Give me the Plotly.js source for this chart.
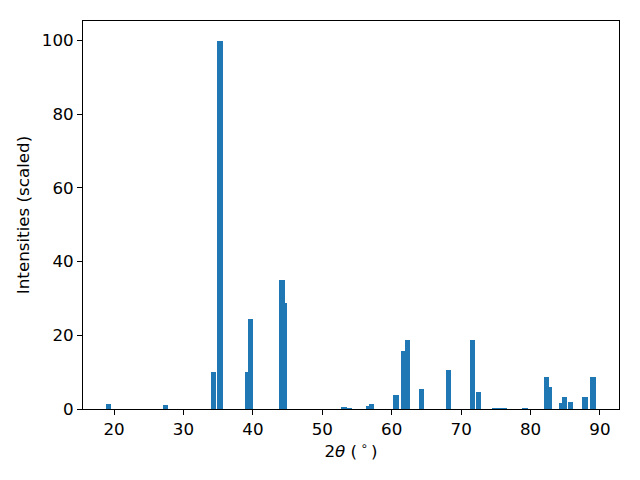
<!DOCTYPE html>
<html>
<head>
<meta charset="utf-8">
<script src="https://cdn.plot.ly/plotly-3.0.1.min.js"></script>
<style>html,body{margin:0;padding:0;background:#fff;}#chart{width:640px;height:480px;}</style>
</head>
<body>
<div id="chart"></div>
<script>
const twoTheta = [19.2, 27.4, 34.3, 35.3, 39.2, 39.67, 44.16, 44.48, 53.1, 53.9, 56.74, 57.1, 60.6, 61.67, 62.27, 64.3, 68.15, 71.62, 72.5, 74.8, 75.5, 76.2, 79.16, 82.27, 82.75, 84.56, 84.9, 85.78, 87.85, 89.0];
const intensity = [1.4, 1.1, 10.1, 100, 10.1, 24.4, 35, 28.8, 0.6, 0.35, 0.9, 1.45, 3.9, 15.8, 18.8, 5.5, 10.7, 18.6, 4.7, 0.35, 0.35, 0.35, 0.3, 8.8, 6.0, 1.7, 3.35, 2.0, 3.3, 8.8];
const xTicks = [20, 30, 40, 50, 60, 70, 80, 90];
const yTicks = [0, 20, 40, 60, 80, 100];

const font = {family: 'DejaVu Sans, sans-serif', size: 16.7, color: '#000'};
Plotly.newPlot('chart', [{
  type: 'bar', x: twoTheta, y: intensity, width: 0.8,
  marker: {color: '#1f77b4', line: {width: 0}}
}], {
  width: 640, height: 480,
  margin: {l: 83, r: 21, t: 21, b: 71},
  paper_bgcolor: '#fff', plot_bgcolor: '#fff',
  font: font, showlegend: false, bargap: 0,
  xaxis: {range: [15.53, 92.74], tickvals: xTicks, ticktext: xTicks.map(String),
    ticks: 'outside', ticklen: 5, tickwidth: 1, tickcolor: '#000',
    showline: true, linecolor: '#000', linewidth: 1, mirror: true,
    showgrid: false, zeroline: false, tickfont: font,
    title: {text: '2<i>θ</i> (\u2009<sup>∘</sup>\u2009)', font: font, standoff: 7}},
  yaxis: {range: [0, 105.3], tickvals: yTicks, ticktext: yTicks.map(String),
    ticks: 'outside', ticklen: 5, tickwidth: 1, tickcolor: '#000',
    showline: true, linecolor: '#000', linewidth: 1, mirror: true,
    showgrid: false, zeroline: false, tickfont: font,
    title: {text: 'Intensities (scaled)', font: font, standoff: 7}}
}, {displayModeBar: false, staticPlot: true});
</script>
</body>
</html>
